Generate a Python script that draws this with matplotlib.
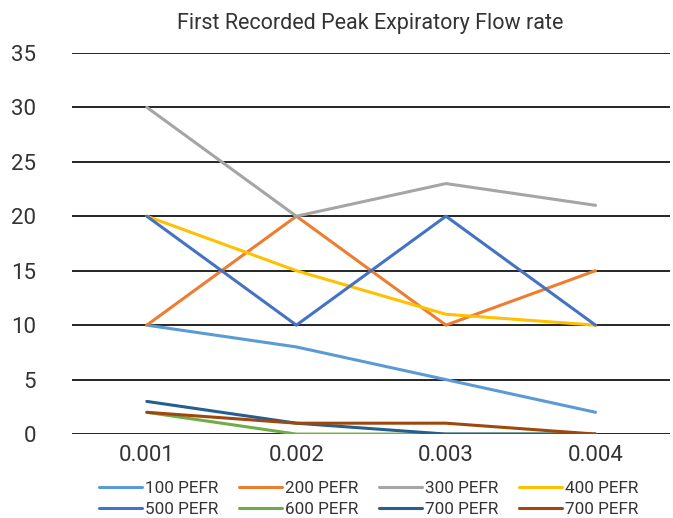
import matplotlib.pyplot as plt
import numpy as np

plt.rcParams["font.family"] = ["Roboto", "DejaVu Sans"]

categories = ["0.001", "0.002", "0.003", "0.004"]
series_names = ["100 PEFR", "200 PEFR", "300 PEFR", "400 PEFR",
                "500 PEFR", "600 PEFR", "700 PEFR", "700 PEFR"]
pefr_100 = [10, 8, 5, 2]
pefr_200 = [10, 20, 10, 15]
pefr_300 = [30, 20, 23, 21]
pefr_400 = [20, 15, 11, 10]
pefr_500 = [20, 10, 20, 10]
pefr_600 = [2, 0, 0, 0]
pefr_700a = [3, 1, 0, 0]
pefr_700b = [2, 1, 1, 0]
yticks = [0, 5, 10, 15, 20, 25, 30, 35]

colors = ["#5B9BD5", "#ED7D31", "#A5A5A5", "#FFC000",
          "#4472C4", "#70AD47", "#255E91", "#9E480E"]
series = [pefr_100, pefr_200, pefr_300, pefr_400,
          pefr_500, pefr_600, pefr_700a, pefr_700b]

fig = plt.figure(figsize=(6.73, 5.18), dpi=100)
ax = fig.add_axes([0.107, 0.162, 0.889, 0.736])

x = np.arange(len(categories))
for name, vals, c in zip(series_names, series, colors):
    ax.plot(x, vals, color=c, lw=2.2, label=name, solid_capstyle="round")

ax.set_xlim(-0.5, 3.5)
ax.set_ylim(0, 35)
ax.set_yticks(yticks)
ax.set_xticks(x, categories)
ax.grid(axis="y", color="black", lw=1.2)
ax.set_axisbelow(True)
for s in ax.spines.values():
    s.set_visible(False)
ax.tick_params(length=0, labelsize=16, colors="#333333")
ax.tick_params(axis="y", pad=26)
ax.tick_params(axis="x", pad=8)

fig.text(0.55, 0.955, "First Recorded Peak Expiratory Flow rate",
         ha="center", va="center", fontsize=15.5, color="#333333")

# legend filled row by row, like the original
handles, labels = ax.get_legend_handles_labels()
order = [0, 4, 1, 5, 2, 6, 3, 7]
fig.legend([handles[i] for i in order], [labels[i] for i in order],
           loc="lower center", bbox_to_anchor=(0.548, -0.028), ncol=4,
           frameon=False, fontsize=12.3, handlelength=2.5, handletextpad=0.2,
           columnspacing=1.2, labelspacing=0.35, labelcolor="#333333")

fig.savefig("out.png")
